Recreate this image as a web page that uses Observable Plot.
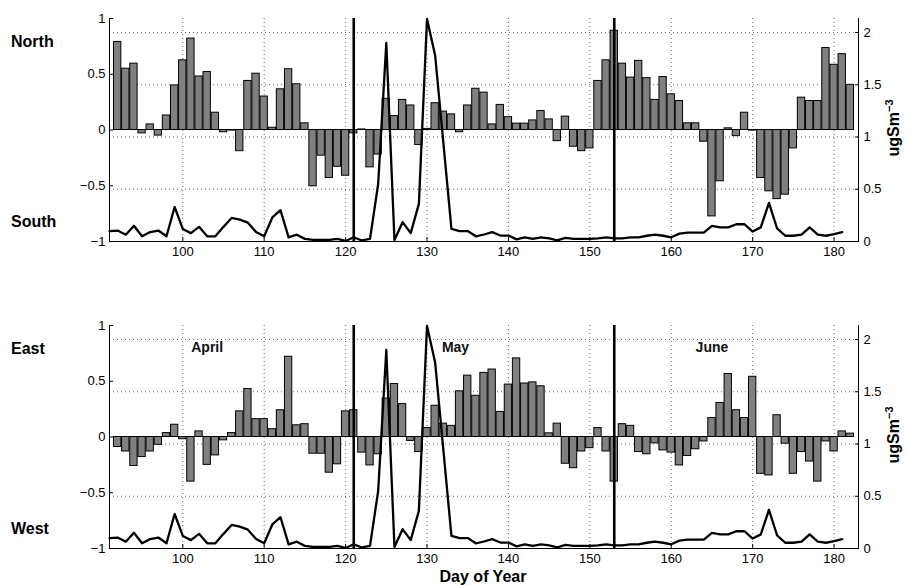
<!DOCTYPE html>
<html>
<head>
<meta charset="utf-8">
<script src="https://cdn.jsdelivr.net/npm/d3@7"></script>
<script src="https://cdn.jsdelivr.net/npm/@observablehq/plot@0.6"></script>
<style>
  body { margin: 0; background: #fff; font-family: "Liberation Sans", Arial, sans-serif; }
  #wrap { position: relative; width: 909px; height: 585px; overflow: hidden; }
  .panel { position: absolute; left: 0; }
  .lab { position: absolute; font-weight: bold; font-size: 16px; line-height: 1; color: #000; }
  .unit { position: absolute; font-weight: bold; font-size: 16px; line-height: 1; transform: translate(-50%,-50%) rotate(-90deg); white-space: nowrap; }
  .unit sup { font-size: 11px; }
</style>
</head>
<body>
<div id="wrap"></div>
<script>
// ---- data ----
const barDays = d3.range(92, 183);          // days 92..182
const lineDays = d3.range(91, 182);         // days 91..181

const northSouth = [
  0.79, 0.55, 0.595, -0.03, 0.05, -0.05, 0.13, 0.40, 0.625, 0.82,
  0.48, 0.52, 0.155, -0.02, -0.005, -0.19, 0.44, 0.505, 0.30, 0.02,
  0.365, 0.545, 0.41, 0.06, -0.505, -0.23, -0.43, -0.33, -0.41, -0.03,
  0.005, -0.335, -0.22, 0.28, 0.125, 0.27, 0.22, -0.135, 0.01, 0.24,
  0.165, 0.14, -0.02, 0.22, 0.37, 0.335, 0.05, 0.225, 0.115, 0.057,
  0.057, 0.086, 0.17, 0.095, -0.10, 0.12, -0.15, -0.19, -0.165, 0.44,
  0.625, 0.89, 0.595, 0.47, 0.62, 0.465, 0.27, 0.475, 0.32, 0.26,
  0.06, 0.06, -0.105, -0.775, -0.46, 0.015, -0.055, 0.155, -0.005, -0.43,
  -0.55, -0.62, -0.58, -0.165, 0.29, 0.26, 0.26, 0.735, 0.585, 0.68, 0.405
];

const eastWest = [
  -0.09, -0.13, -0.26, -0.18, -0.13, -0.07, 0.035, 0.11, -0.02, -0.40,
  0.05, -0.25, -0.165, -0.03, 0.035, 0.23, 0.43, 0.16, 0.16, 0.07,
  0.24, 0.72, 0.105, 0.115, -0.15, -0.15, -0.32, -0.245, 0.23, 0.24,
  -0.14, -0.255, -0.155, 0.345, 0.475, 0.295, -0.035, -0.135, 0.08, 0.28,
  0.12, 0.10, 0.41, 0.55, 0.37, 0.575, 0.605, 0.225, 0.47, 0.705,
  0.48, 0.49, 0.455, 0.033, 0.12, -0.24, -0.28, -0.13, -0.10, 0.08,
  -0.13, -0.40, 0.115, 0.10, -0.135, -0.155, -0.057, -0.12, -0.14, -0.255,
  -0.17, -0.11, -0.04, 0.17, 0.305, 0.565, 0.24, 0.17, 0.54, -0.33,
  -0.345, 0.195, -0.06, -0.33, -0.135, -0.22, -0.40, -0.04, -0.13, 0.05, 0.03
];

const concentration = [
  0.10, 0.105, 0.065, 0.15, 0.05, 0.09, 0.105, 0.05, 0.33, 0.12,
  0.08, 0.14, 0.05, 0.05, 0.14, 0.225, 0.21, 0.18, 0.09, 0.05,
  0.23, 0.30, 0.04, 0.065, 0.025, 0.015, 0.015, 0.015, 0.025, 0.005,
  0.04, 0.01, 0.025, 0.55, 1.90, 0.015, 0.185, 0.08, 0.36, 2.13,
  1.78, 0.95, 0.12, 0.10, 0.10, 0.05, 0.067, 0.09, 0.057, 0.057,
  0.02, 0.04, 0.025, 0.04, 0.03, 0.01, 0.035, 0.025, 0.025, 0.025,
  0.03, 0.04, 0.03, 0.03, 0.04, 0.04, 0.055, 0.065, 0.055, 0.04,
  0.075, 0.085, 0.085, 0.085, 0.15, 0.135, 0.135, 0.165, 0.165, 0.095,
  0.135, 0.37, 0.125, 0.055, 0.055, 0.065, 0.135, 0.065, 0.055, 0.07, 0.09
];

const xTicks = [100, 110, 120, 130, 140, 150, 160, 170, 180];
const leftTicks = [-1, -0.5, 0, 0.5, 1];
const rightTicks = [0, 0.5, 1, 1.5, 2];
const monthBounds = [121, 153];
const months = ["April", "May", "June"];
const monthDays = [103, 133.5, 165];
const panelNames = [["North", "South"], ["East", "West"]];
const unitLabel = "ugSm";
const xLabel = "Day of Year";

// ---- scales ----
const rightMax = 2.134;
const toLeft = v => v / rightMax * 2 - 1;
const rightPos = rightTicks.map(toLeft);
const fmt = d => (d < 0 ? "\u2212" : "") + String(Math.abs(d));

function panel(values, showMonths) {
  const bars = barDays.map((d, i) => ({day: d, v: values[i]}));
  const line = lineDays.map((d, i) => ({day: d, c: concentration[i]}));
  const marks = [
    Plot.ruleX(xTicks, {stroke: "#000", strokeWidth: 0.8, strokeDasharray: "1,3", strokeOpacity: 0.75}),
    Plot.ruleY(rightPos.slice(1), {stroke: "#000", strokeWidth: 0.8, strokeDasharray: "1,3", strokeOpacity: 0.75}),
    Plot.rectY(bars, {x1: d => d.day - 0.45, x2: d => d.day + 0.45, y1: 0, y2: "v",
      fill: "#808080", stroke: "#000", strokeWidth: 1}),
    Plot.line(line, {x: "day", y: d => toLeft(d.c), stroke: "#000", strokeWidth: 2.3}),
    Plot.ruleX(monthBounds, {stroke: "#000", strokeWidth: 2.6}),
    Plot.ruleX([91], {stroke: "#000", strokeWidth: 1}),
    Plot.ruleX([183], {stroke: "#000", strokeWidth: 1}),
    Plot.ruleY([-1], {stroke: "#000", strokeWidth: 1}),
    Plot.axisX({ticks: xTicks, tickSize: -4, tickPadding: 9, tickFormat: d => String(d), label: null}),
    Plot.axisY({anchor: "left", ticks: leftTicks, tickSize: -4, tickPadding: 8, tickFormat: fmt, label: null}),
    Plot.axisY({anchor: "right", ticks: rightPos, tickSize: -4, tickPadding: 9, label: null,
      tickFormat: d => String(rightTicks[rightPos.indexOf(d)])})
  ];
  if (showMonths) {
    marks.push(Plot.text(months.map((m, i) => ({m, d: monthDays[i]})),
      {x: "d", y: () => 0.8, text: "m", fontWeight: "bold", fontSize: 14, fill: "#111"}));
  }
  return Plot.plot({
    width: 909, height: 267,
    marginLeft: 109, marginRight: 51, marginTop: 18, marginBottom: 26,
    x: {domain: [91, 183]},
    y: {domain: [-1, 1]},
    style: {fontFamily: "'Liberation Sans', Arial, sans-serif", fontSize: "13px", background: "transparent", color: "#000", overflow: "visible"},
    marks
  });
}

const wrap = document.getElementById("wrap");
const tops = [0, 307];
[northSouth, eastWest].forEach((vals, k) => {
  const svg = panel(vals, k === 1);
  svg.classList.add("panel");
  svg.style.top = tops[k] + "px";
  wrap.appendChild(svg);
  const [a, b] = panelNames[k];
  const la = document.createElement("div");
  la.className = "lab"; la.textContent = a;
  la.style.left = "11px"; la.style.top = (tops[k] + 34) + "px";
  wrap.appendChild(la);
  const lb = document.createElement("div");
  lb.className = "lab"; lb.textContent = b;
  lb.style.left = "11px"; lb.style.top = (tops[k] + 214) + "px";
  wrap.appendChild(lb);
  const u = document.createElement("div");
  u.className = "unit";
  u.innerHTML = unitLabel + "<sup>\u22123</sup>";
  u.style.left = "893px"; u.style.top = (tops[k] + 128) + "px";
  wrap.appendChild(u);
});
const xl = document.createElement("div");
xl.className = "lab"; xl.textContent = xLabel;
xl.style.left = "483px"; xl.style.top = "569px"; xl.style.transform = "translateX(-50%)";
wrap.appendChild(xl);
</script>
</body>
</html>
